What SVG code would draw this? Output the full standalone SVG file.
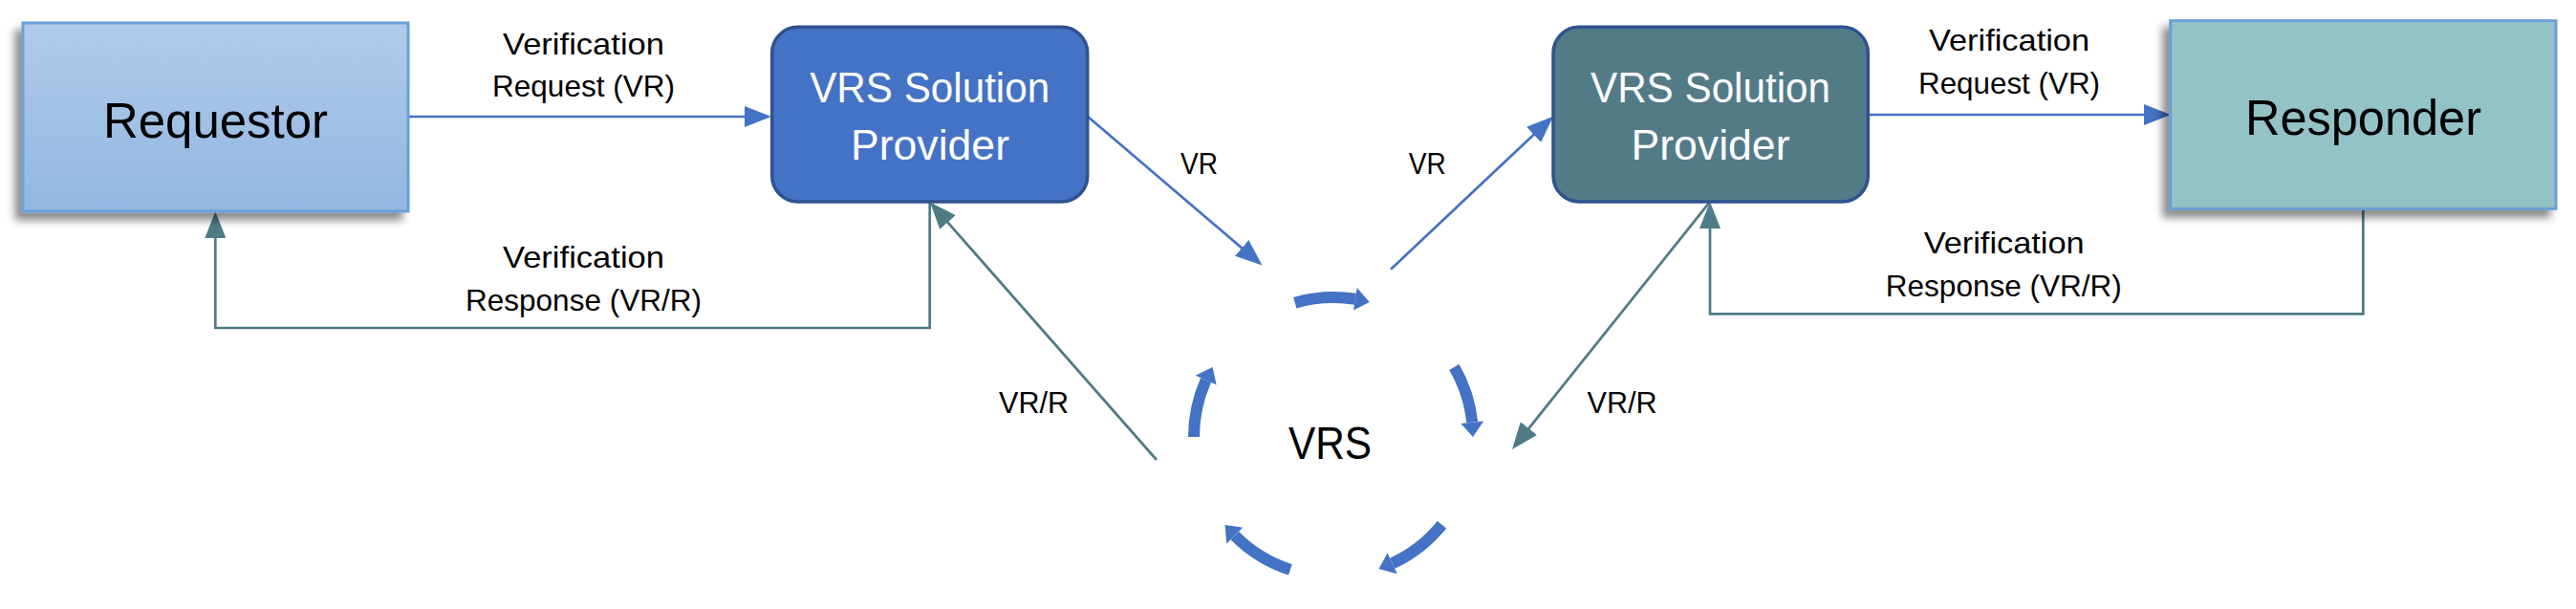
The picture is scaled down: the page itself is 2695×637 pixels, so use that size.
<svg xmlns="http://www.w3.org/2000/svg" width="2695" height="637" viewBox="0 0 2695 637">
  <style>
    .t { font-family: "Liberation Sans", Arial, sans-serif; text-anchor: middle; fill: #000; }
    .lbl { font-size: 32px; }
    .big { font-size: 52px; }
    .prov { font-size: 44px; fill: #ffffff; }
    .blue { fill: none; stroke: #4472c4; stroke-width: 2.7; }
    .teal { fill: none; stroke: #4e7b86; stroke-width: 2.7; }
    .cyc { fill: none; stroke: #4472c4; stroke-width: 12; }
    .cychead { fill: #4472c4; stroke: none; }
  </style>
  <defs>
    <linearGradient id="reqGrad" x1="0" y1="0" x2="0" y2="1">
      <stop offset="0" stop-color="#b1cbea"/>
      <stop offset="1" stop-color="#92b6e1"/>
    </linearGradient>
    <filter id="shadow" x="-10%" y="-10%" width="120%" height="130%">
      <feDropShadow dx="-7" dy="8" stdDeviation="4" flood-color="#000" flood-opacity="0.45"/>
    </filter>
    <marker id="headBlue" markerUnits="userSpaceOnUse" viewBox="0 0 28 22" markerWidth="28" markerHeight="22" refX="18" refY="11" orient="auto">
      <path d="M0,0 L28,11 L0,22 z" fill="#4472c4"/>
    </marker>
    <marker id="headTeal" markerUnits="userSpaceOnUse" viewBox="0 0 28 22" markerWidth="28" markerHeight="22" refX="18" refY="11" orient="auto">
      <path d="M0,0 L28,11 L0,22 z" fill="#4e7b86"/>
    </marker>
  </defs>

  <rect width="2695" height="637" fill="#ffffff"/>

  <g id="connectors">
    <!-- Requestor -> Provider 1 -->
    <line class="blue" x1="427" y1="122" x2="797" y2="122" marker-end="url(#headBlue)"/>
    <!-- Provider 2 -> Responder -->
    <line class="blue" x1="1954" y1="120" x2="2261" y2="120" marker-end="url(#headBlue)"/>
    <!-- Provider 1 -> VRS -->
    <line class="blue" x1="1137.5" y1="121.5" x2="1312.9" y2="271.1" marker-end="url(#headBlue)"/>
    <!-- VRS -> Provider 2 -->
    <line class="blue" x1="1455" y1="281.7" x2="1617.7" y2="128.5" marker-end="url(#headBlue)"/>
    <!-- VRS -> Provider 1 (VR/R) -->
    <line class="teal" x1="1210" y1="481" x2="979.6" y2="219" marker-end="url(#headTeal)"/>
    <!-- Provider 2 -> VRS (VR/R) -->
    <line class="teal" x1="1789" y1="211" x2="1588.2" y2="462.2" marker-end="url(#headTeal)"/>
    <!-- Provider 1 -> Requestor (response) -->
    <path class="teal" d="M972.7,211 V343 H225.3 V231" marker-end="url(#headTeal)"/>
    <!-- Responder -> Provider 2 (response) -->
    <path class="teal" d="M2472.3,218.3 V328.3 H1789 V221" marker-end="url(#headTeal)"/>

    <text class="t lbl" x="610.5" y="56.7" textLength="169" lengthAdjust="spacingAndGlyphs">Verification</text>
    <text class="t lbl" x="610.5" y="100.7" textLength="191" lengthAdjust="spacingAndGlyphs">Request (VR)</text>
    <text class="t lbl" x="610.5" y="280" textLength="169" lengthAdjust="spacingAndGlyphs">Verification</text>
    <text class="t lbl" x="610.5" y="325" textLength="247" lengthAdjust="spacingAndGlyphs">Response (VR/R)</text>

    <text class="t lbl" x="2102" y="53.3" textLength="168" lengthAdjust="spacingAndGlyphs">Verification</text>
    <text class="t lbl" x="2102" y="98.3" textLength="190" lengthAdjust="spacingAndGlyphs">Request (VR)</text>
    <text class="t lbl" x="2096.7" y="265" textLength="168" lengthAdjust="spacingAndGlyphs">Verification</text>
    <text class="t lbl" x="2096.3" y="310" textLength="247" lengthAdjust="spacingAndGlyphs">Response (VR/R)</text>

    <text class="t lbl" x="1254.5" y="181.7" textLength="39" lengthAdjust="spacingAndGlyphs">VR</text>
    <text class="t lbl" x="1493.3" y="181.7" textLength="39" lengthAdjust="spacingAndGlyphs">VR</text>
    <text class="t lbl" x="1081.5" y="431.7" textLength="73" lengthAdjust="spacingAndGlyphs">VR/R</text>
    <text class="t lbl" x="1697" y="431.7" textLength="73" lengthAdjust="spacingAndGlyphs">VR/R</text>
  </g>

  <g id="requestor">
    <rect x="24" y="24" width="403" height="197" fill="url(#reqGrad)" stroke="#6a9fd8" stroke-width="3" filter="url(#shadow)"/>
    <text class="t big" x="225.5" y="144" textLength="235" lengthAdjust="spacingAndGlyphs">Requestor</text>
  </g>

  <g id="provider1">
    <rect x="807.7" y="28.3" width="330" height="182.7" rx="27" ry="27" fill="#4472c4" stroke="#2f528f" stroke-width="3.5"/>
    <text class="t prov" x="972.7" y="107.3" textLength="251" lengthAdjust="spacingAndGlyphs">VRS Solution</text>
    <text class="t prov" x="973" y="166.7" textLength="166" lengthAdjust="spacingAndGlyphs">Provider</text>
  </g>

  <g id="vrs">
    <path class="cyc" d="M1354.8,316.7 A146,146 0 0 1 1417.8,312.8"/>
    <polygon class="cychead" points="1416.0,324.6 1419.7,300.9 1432.8,316.0"/>
    <path class="cyc" d="M1521.4,384 A146,146 0 0 1 1540.2,441.7"/>
    <polygon class="cychead" points="1528.3,443.0 1552.1,440.5 1541,457"/>
    <path class="cyc" d="M1508.5,548.9 A146,146 0 0 1 1456.7,589.3"/>
    <polygon class="cychead" points="1451.6,578.4 1461.8,600.2 1442.5,595.0"/>
    <path class="cyc" d="M1349.9,595.9 A146,146 0 0 1 1291.8,560.2"/>
    <polygon class="cychead" points="1300.2,551.8 1283.3,568.7 1281.5,548.9"/>
    <path class="cyc" d="M1249,457 A146,146 0 0 1 1261.6,397.6"/>
    <polygon class="cychead" points="1272.6,402.5 1250.7,392.7 1268.6,384"/>
    <text class="t" x="1391.5" y="480" font-size="48" textLength="87" lengthAdjust="spacingAndGlyphs">VRS</text>
  </g>

  <g id="provider2">
    <rect x="1625" y="28.3" width="329.3" height="182.7" rx="27" ry="27" fill="#537b87" stroke="#2f528f" stroke-width="3.5"/>
    <text class="t prov" x="1789.5" y="107.3" textLength="251" lengthAdjust="spacingAndGlyphs">VRS Solution</text>
    <text class="t prov" x="1789.5" y="166.7" textLength="166" lengthAdjust="spacingAndGlyphs">Provider</text>
  </g>

  <g id="responder">
    <rect x="2270.7" y="21.7" width="403.3" height="196.6" fill="#93c3c6" stroke="#6a9fd8" stroke-width="3" filter="url(#shadow)"/>
    <text class="t big" x="2472.5" y="141" textLength="247" lengthAdjust="spacingAndGlyphs">Responder</text>
  </g>
</svg>
